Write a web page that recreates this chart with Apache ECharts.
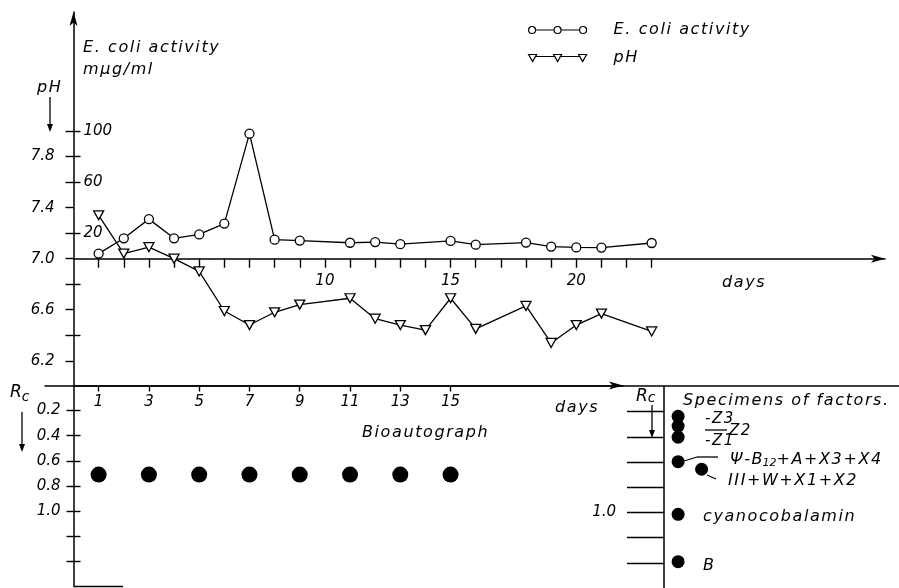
<!DOCTYPE html>
<html><head><meta charset="utf-8">
<script src="https://cdn.jsdelivr.net/npm/echarts@6/dist/echarts.min.js"></script>
<style>html,body{margin:0;padding:0;background:#fff}#c{width:899px;height:588px}</style>
</head><body><div id="c"></div>
<script>
// ---- data ----
const ecoliDays   = [1,2,3,4,5,6,7,8,9,11,12,13,15,16,18,19,20,21,23];
const ecoliValues = [4,16,31,16,19,27.5,98,14.9,14.2,12.5,13,11.4,13.9,11,12.6,9.5,8.8,8.7,12.3];
const phDays   = [1,2,3,4,5,6,7,8,9,11,12,13,14,15,16,18,19,20,21,23];
const phValues = [7.34,7.04,7.09,7.0,6.9,6.59,6.48,6.58,6.64,6.69,6.53,6.48,6.44,6.69,6.45,6.63,6.34,6.48,6.57,6.43];
const bioDays = [1,3,5,7,9,11,13,15];
const bioRc   = [0.71,0.71,0.71,0.71,0.71,0.71,0.71,0.71];
const specimenNames = ['Z3','Z2','Z1','Psi-B12+A+X3+X4','III+W+X1+X2','cyanocobalamin','B'];
const specimenRc    = [0.237,0.314,0.402,0.597,0.657,1.015,1.391];
const specimenLane  = [0.6,0.6,0.6,0.6,1.6,0.6,0.6];
const dayTicks   = [1,2,3,4,5,6,7,8,9,10,11,12,13,14,15,16,17,18,19,20,21,22,23];
const dayLabels  = [10,15,20];
const bioDayTicks = [1,3,5,7,9,11,13,15];
const phTicks      = [6.2,6.4,6.6,6.8,7.0,7.2,7.4,7.6,7.8,8.0];
const phLabels     = [6.2,6.6,7.0,7.4,7.8];
const phInnerTicks = [6.4,6.8,7.2,7.6,7.8,8.0];
const ecoliLabels = [20,60,100];
const rcTicks  = [0.2,0.4,0.6,0.8,1.0,1.2,1.4];
const rcLabels = [0.2,0.4,0.6,0.8,1.0];
const specimenRcLabels = [1.0];

// ---- styles ----
const FONT = 'DejaVu Sans';
const numStyle = {color:'#000', fontFamily:FONT, fontStyle:'italic', fontSize:15};
const AX = {color:'#000', width:1.5};
const TK = {color:'#000', width:1.4};
const zip = (a,b) => a.map((v,i)=>[v,b[i]]);
const sp = s => s.split('').join('\u200A');

function txt(text, x, y, size, spaced){
  return {type:'text', x:x, y:y, z:10, style:{text: spaced===false ? text : sp(text), fill:'#000',
    font:'italic '+(size||16)+'px "'+FONT+'"', verticalAlign:'middle'}};
}
function line(x1,y1,x2,y2,w){
  return {type:'line', z:10, shape:{x1:x1,y1:y1,x2:x2,y2:y2}, style:{stroke:'#000', lineWidth:w||1.3}};
}
function arrowDown(x,y1,y2){
  return [line(x,y1,x,y2-6,1.3),
    {type:'polygon', z:10, shape:{points:[[x-3,y2-8],[x+3,y2-8],[x,y2]]}, style:{fill:'#000'}}];
}
const hidden = {axisLine:{show:false}, axisTick:{show:false}, axisLabel:{show:false}, splitLine:{show:false}};

const circlesIcon = 'path://M0,3.5A3.5,3.5,0,1,0,7,3.5A3.5,3.5,0,1,0,0,3.5Z M7,3.5L25.5,3.5 M25.5,3.5A3.5,3.5,0,1,0,32.5,3.5A3.5,3.5,0,1,0,25.5,3.5Z M32.5,3.5L51,3.5 M51,3.5A3.5,3.5,0,1,0,58,3.5A3.5,3.5,0,1,0,51,3.5Z';
const trisIcon = 'path://M0,0L8,0L4,7Z M6,2L27,2 M25,0L33,0L29,7Z M31,2L52,2 M50,0L58,0L54,7Z';

const chart = echarts.init(document.getElementById('c'), null, {renderer:'canvas'});
chart.setOption({
  backgroundColor:'#fff',
  animation:false,
  legend:{
    orient:'vertical', left:523, top:17, itemWidth:58, itemHeight:7, itemGap:12,
    formatter: n => sp(n),
    textStyle:{color:'#000', fontFamily:FONT, fontStyle:'italic', fontSize:16, padding:[0,0,0,22]},
    data:[
      {name:'E. coli activity', icon:circlesIcon, itemStyle:{color:'#fff', borderColor:'#000', borderWidth:1.2}},
      {name:'pH', icon:trisIcon, itemStyle:{color:'#fff', borderColor:'#000', borderWidth:1.2}}
    ]
  },
  grid:[
    {left:73.5, top:12, width:811.5, height:246.7},      // 0: E. coli, x axis at pH 7.0
    {left:73.5, top:12, width:811.5, height:374.3},      // 1: pH
    {left:73.5, top:385.5, width:549.5, height:200.8},   // 2: bioautograph
    {left:664, top:386.5, width:235, height:205.6},      // 3: specimens
    {left:45, top:386, width:854, height:1}              // 4: long divider line
  ],
  xAxis:[
    {gridIndex:0, type:'value', min:0, max:32.28,
      axisLine:{onZero:false, symbol:['none','arrow'], symbolSize:[6,14], lineStyle:AX},
      axisTick:{customValues:dayTicks, length:9, lineStyle:TK},
      axisLabel:Object.assign({customValues:dayLabels, margin:15}, numStyle),
      splitLine:{show:false}},
    Object.assign({gridIndex:1, type:'value', min:0, max:32.28}, hidden),
    {gridIndex:2, type:'value', min:0, max:21.86, position:'top',
      axisLine:{onZero:false, symbol:['none','arrow'], symbolSize:[6,14], lineStyle:AX},
      axisTick:{inside:true, customValues:bioDayTicks, length:6, lineStyle:TK},
      axisLabel:Object.assign({inside:true, customValues:bioDayTicks, margin:9}, numStyle),
      splitLine:{show:false}},
    Object.assign({gridIndex:3, type:'value', min:0, max:10, position:'top'}, hidden),
    {gridIndex:4, type:'value', min:0, max:1, position:'top',
      axisLine:{onZero:false, lineStyle:AX}, axisTick:{show:false}, axisLabel:{show:false}, splitLine:{show:false}}
  ],
  yAxis:[
    {gridIndex:0, type:'value', min:0, max:193.3, position:'left',
      axisLine:{show:false, onZero:false}, axisTick:{show:false},
      axisLabel:Object.assign({inside:true, customValues:ecoliLabels, margin:10}, numStyle),
      splitLine:{show:false}},
    {gridIndex:1, type:'value', min:6.0, max:8.933, position:'left',
      axisLine:{onZero:false, symbol:['none','arrow'], symbolSize:[6,14], lineStyle:AX},
      axisTick:{customValues:phTicks, length:8, lineStyle:TK},
      axisLabel:Object.assign({customValues:phLabels, margin:19, formatter:v=>v.toFixed(1)}, numStyle),
      splitLine:{show:false}},
    {gridIndex:1, type:'value', min:6.0, max:8.933, position:'left',
      axisLine:{show:false, onZero:false},
      axisTick:{inside:true, customValues:phInnerTicks, length:7, lineStyle:TK},
      axisLabel:{show:false}, splitLine:{show:false}},
    {gridIndex:2, type:'value', min:0, max:1.6, inverse:true, position:'left',
      axisLine:{onZero:false, lineStyle:AX},
      axisTick:{customValues:rcTicks, length:7, lineStyle:TK},
      axisLabel:Object.assign({customValues:rcLabels, margin:13, formatter:v=>v.toFixed(1)}, numStyle),
      splitLine:{show:false}},
    {gridIndex:2, type:'value', min:0, max:1.6, inverse:true, position:'left',
      axisLine:{show:false, onZero:false},
      axisTick:{inside:true, customValues:rcTicks, length:7, lineStyle:TK},
      axisLabel:{show:false}, splitLine:{show:false}},
    {gridIndex:3, type:'value', min:0, max:1.6, inverse:true, position:'left',
      axisLine:{onZero:false, lineStyle:AX},
      axisTick:{customValues:rcTicks, length:37, lineStyle:TK},
      axisLabel:Object.assign({customValues:specimenRcLabels, margin:48, formatter:v=>v.toFixed(1)}, numStyle),
      splitLine:{show:false}},
    Object.assign({gridIndex:4, type:'value', min:0, max:1}, hidden)
  ],
  series:[
    {name:'E. coli activity', type:'line', xAxisIndex:0, yAxisIndex:0, data:zip(ecoliDays, ecoliValues),
      symbol:'circle', symbolSize:9, showAllSymbol:true,
      lineStyle:{color:'#000', width:1.3}, itemStyle:{color:'#fff', borderColor:'#000', borderWidth:1.3}, z:5},
    {name:'pH', type:'line', xAxisIndex:1, yAxisIndex:1, data:zip(phDays, phValues),
      symbol:'triangle', symbolRotate:180, symbolSize:[10,9], showAllSymbol:true,
      lineStyle:{color:'#000', width:1.3}, itemStyle:{color:'#fff', borderColor:'#000', borderWidth:1.3}, z:5},
    {name:'Bioautograph', type:'scatter', xAxisIndex:2, yAxisIndex:3, data:zip(bioDays, bioRc),
      symbol:'circle', symbolSize:16, itemStyle:{color:'#000', opacity:1}},
    {name:'Specimens', type:'scatter', xAxisIndex:3, yAxisIndex:5,
      data:specimenLane.map((l,i)=>({name:specimenNames[i], value:[l, specimenRc[i]]})),
      symbol:'circle', symbolSize:13, itemStyle:{color:'#000', opacity:1}}
  ],
  graphic:[
    txt('E. coli activity', 83, 48),
    txt('m\u00b5g/ml', 83, 70),
    txt('pH', 37, 88),
    ...arrowDown(50, 97, 132),
    txt('days', 722, 283),
    txt('days', 555, 408),
    txt('Bioautograph', 362, 433),
    {type:'text', x:10, y:393, z:10, style:{text:'{r|R}{c|c}', verticalAlign:'middle',
      rich:{r:{font:'italic 17px "'+FONT+'"', fill:'#000'}, c:{font:'italic 14px "'+FONT+'"', fill:'#000', padding:[8,0,0,0]}}}},
    ...arrowDown(22, 412, 452),
    {type:'text', x:636, y:397, z:10, style:{text:'{r|R}{c|c}', verticalAlign:'middle',
      rich:{r:{font:'italic 17px "'+FONT+'"', fill:'#000'}, c:{font:'italic 14px "'+FONT+'"', fill:'#000', padding:[2,0,0,0]}}}},
    ...arrowDown(652, 405, 438),
    txt('Specimens of factors.', 683, 401),
    txt('-Z3', 705, 419, 15),
    line(705, 430, 727, 430, 1.3),
    txt('-Z1', 705, 441, 15),
    txt('Z2', 729, 431, 15),
    {type:'text', x:730, y:460, z:10, style:{text:'{n|'+sp('\u03a8-B')+'}{s|12}{n|'+sp('+A+X3+X4')+'}', verticalAlign:'middle',
      rich:{n:{font:'italic 16px "'+FONT+'"', fill:'#000'}, s:{font:'italic 11px "'+FONT+'"', fill:'#000', padding:[6,0,0,0]}}}},
    line(684, 461, 697, 457, 1.3),
    line(697, 457, 718, 457, 1.3),
    txt('III+W+X1+X2', 728, 481),
    line(707, 475, 716, 479, 1.3),
    txt('cyanocobalamin', 703, 517),
    txt('B', 703, 566),
    line(73.5, 586.5, 123, 586.5, 1.5)
  ]
});
</script>
</body></html>
